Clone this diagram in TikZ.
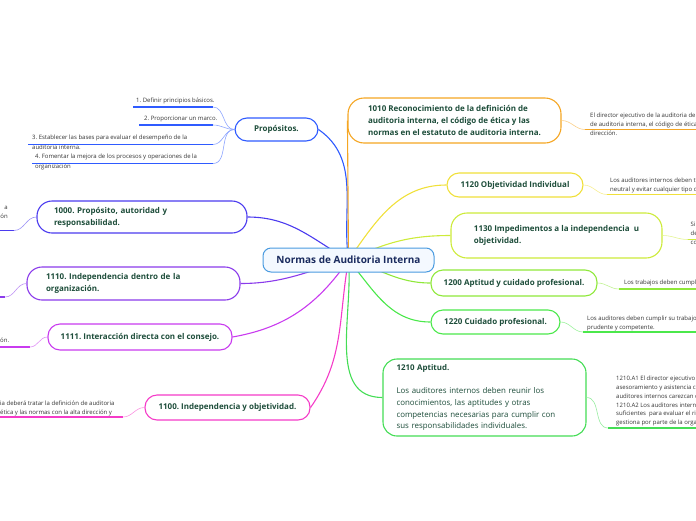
\documentclass[tikz,border=0pt]{standalone}
\usepackage{fontspec}
\setmainfont{Open Sans}
\usepackage{xcolor}
\definecolor{cRoot}{HTML}{4A9BE0}
\definecolor{cRootFill}{HTML}{F4F9FF}
\definecolor{cNavy}{HTML}{1A2B5E}
\definecolor{cText}{HTML}{1D4D3A}
\definecolor{cLeaf}{HTML}{333333}
\definecolor{cProp}{HTML}{2F5BFF}
\definecolor{cA}{HTML}{4B3BEF}
\definecolor{cB}{HTML}{8B3BEB}
\definecolor{cC}{HTML}{C93BEF}
\definecolor{cD}{HTML}{F53BC8}
\definecolor{cE}{HTML}{F5A623}
\definecolor{cF}{HTML}{F0E03A}
\definecolor{cG}{HTML}{CDEB3A}
\definecolor{cH}{HTML}{8FE83A}
\definecolor{cI}{HTML}{4BE84B}
\definecolor{cJ}{HTML}{44DD55}
\usepackage{tikz}
\usetikzlibrary{backgrounds}
\frenchspacing
\newcommand\rootfont{\fontsize{10}{12}\selectfont\bfseries}
\newcommand\topicfont{\fontsize{8}{12}\selectfont\bfseries}
\newcommand\bodyfont{\fontsize{7.9}{11.7}\selectfont}
\newcommand\leaffont{\fontsize{6}{9}\selectfont}
\tikzset{
  node-root/.style={draw=cRoot,line width=1pt,fill=cRootFill,rounded corners=8pt,
    minimum width=171pt,minimum height=24pt,font=\rootfont,text=cNavy},
  node-topic/.style={draw=#1,line width=1.1pt,fill=white,rounded corners=12pt,
    font=\topicfont,text=cText,inner xsep=0pt,inner ysep=4pt,align=left},
  node-leaf/.style={font=\leaffont,text=cLeaf,inner sep=0pt,align=left},
  branch/.style={line width=1.1pt,draw=#1},
  twig/.style={line width=0.6pt,draw=#1!55},
  uline/.style={line width=1.3pt,draw=#1},
}
\begin{document}
\begin{tikzpicture}[x=1pt,y=1pt]
  \useasboundingbox (0,0) rectangle (696,-520);
  % centro
  \node[node-root] (root) at (348.5,-260) {Normas de Auditoria Interna};
  % lado izquierdo
  \node[node-topic=cProp,minimum width=83pt,minimum height=23pt,align=center] (prop) at (276.5,-129.5) {Propósitos.};
  \node[node-topic=cA,text width=176pt,inner xsep=17pt,minimum height=32pt,rounded corners=15pt] (n1000) at (142,-217) {1000. Propósito, autoridad y\\responsabilidad.};
  \node[node-topic=cB,text width=175pt,inner xsep=19pt,minimum height=33pt,rounded corners=15pt] (n1110) at (133.5,-283.5) {1110. Independencia dentro de la\\organización.};
  \node[node-topic=cC,minimum width=184pt,minimum height=26pt,align=center] (n1111) at (140,-337) {1111. Interacción directa con el consejo.};
  \node[node-topic=cD,minimum width=165pt,minimum height=25pt,align=center] (n1100) at (227.5,-407.5) {1100. Independencia y objetividad.};
  % lado derecho
  \node[node-topic=cE,minimum width=213pt,minimum height=45pt,rounded corners=16pt] (n1010) at (454.5,-120.5) {1010 Reconocimiento de la definición de\\auditoria interna, el código de ética y las\\normas en el estatuto de auditoria interna.};
  \node[node-topic=cF,minimum width=136pt,minimum height=24pt,align=center] (n1120) at (515,-185) {1120 Objetividad Individual};
  \node[node-topic=cG,minimum width=211pt,minimum height=45pt,rounded corners=16pt] (n1130) at (556.5,-235.5) {1130 Impedimentos a la independencia~ u\\objetividad.};
  \node[node-topic=cH,minimum width=166pt,minimum height=26pt,align=center] (n1200) at (514,-283) {1200 Aptitud y cuidado profesional.};
  \node[node-topic=cI,minimum width=129pt,minimum height=24pt,align=center] (n1220) at (495.5,-322) {1220 Cuidado profesional.};
  \node[node-topic=cJ,text width=176pt,inner xsep=13.5pt,minimum height=77pt,rounded corners=14pt,font=\bodyfont] (n1210) at (484.5,-397.5) {\textbf{1210 Aptitud.}\\[11.7pt]Los auditores internos deben reunir los\\conocimientos, las aptitudes y otras\\competencias necesarias para cumplir con\\sus responsabilidades individuales.};

  \begin{scope}[on background layer]
    \draw[branch=cProp] (root.center) to[out=98,in=-35] (prop.east);
    \draw[branch=cA] (root.center) to[out=150,in=0] (n1000.east);
    \draw[branch=cB] (root.center) to[out=195,in=0] (n1110.east);
    \draw[branch=cC] (root.center) to[out=235,in=10] (n1111.east);
    \draw[branch=cD] (root.center) to[out=260,in=55] (n1100.east);
    \draw[branch=cE] (root.center) -- (n1010.west);
    \draw[branch=cF] (root.center) to[out=55,in=180] (n1120.west);
    \draw[branch=cG] (root.center) to[out=25,in=180] (n1130.west);
    \draw[branch=cH] (root.center) to[out=-15,in=180] (n1200.west);
    \draw[branch=cI] (root.center) to[out=-50,in=180] (n1220.west);
    \draw[branch=cJ] (root.center) to[out=-85,in=180] (n1210.west);
  \end{scope}

  % hojas de Propósitos
  \node[node-leaf,anchor=north west] (p1) at (136,-98) {1. Definir principios básicos.};
  \node[node-leaf,anchor=north west] (p2) at (144,-116) {2. Proporcionar un marco.};
  \node[node-leaf,anchor=north west,font=\fontsize{6}{10.5}\selectfont] (p3) at (32,-134.5) {3. Establecer las bases para evaluar el desempeño de la\\auditoria interna.};
  \node[node-leaf,anchor=north west,font=\fontsize{6}{10.5}\selectfont] (p4) at (35,-153.5) {4. Fomentar la mejora de los procesos y operaciones de la\\organización};
  \coordinate (p1e) at (213,-107); \coordinate (p1s) at (133,-107);
  \coordinate (p2e) at (213,-125); \coordinate (p2s) at (139,-125);
  \coordinate (p3e) at (213,-144.5); \coordinate (p3s) at (28,-144.5);
  \coordinate (p4e) at (213,-163.5); \coordinate (p4s) at (32,-163.5);
  \draw[uline=cProp] (p1s) -- (p1e); \draw[uline=cProp] (p2s) -- (p2e);
  \draw[uline=cProp] (p3s) -- (p3e); \draw[uline=cProp] (p4s) -- (p4e);
  \draw[twig=cProp] (prop.west) to[out=180,in=0] (p1e);
  \draw[twig=cProp] (prop.west) to[out=180,in=0] (p2e);
  \draw[twig=cProp] (prop.west) to[out=180,in=0] (p3e);
  \draw[twig=cProp] (prop.west) to[out=180,in=0] (p4e);

  % hojas del lado izquierdo
  \node[node-leaf,anchor=north east,align=right] (a1) at (8,-206) {a\\ón};
  \coordinate (a1e) at (14,-230.5); \coordinate (a1s) at (-4,-230.5);
  \draw[uline=cA] (a1s) -- (a1e);
  \draw[twig=cA] (n1000.west) to[out=180,in=0] (a1e);
  \coordinate (b1e) at (5,-297); \coordinate (b1s) at (-4,-297);
  \draw[uline=cB] (b1s) -- (b1e);
  \draw[twig=cB] (n1110.west) to[out=180,in=0] (b1e);
  \node[node-leaf,anchor=north west] (c1) at (0,-338) {ón.};
  \coordinate (c1e) at (30,-347); \coordinate (c1s) at (-4,-347);
  \draw[uline=cC] (c1s) -- (c1e);
  \draw[twig=cC] (n1111.west) to[out=180,in=0] (c1e);
  \node[node-leaf,anchor=north west] (d1) at (0,-400.5) {ia deberá tratar la definición de auditoria\\ética y las normas con la alta dirección y};
  \coordinate (d1e) at (123,-417); \coordinate (d1s) at (-4,-417);
  \draw[uline=cD] (d1s) -- (d1e);
  \draw[twig=cD] (n1100.west) to[out=180,in=0] (d1e);

  % hojas del lado derecho
  \node[node-leaf,anchor=north west] (e1) at (590,-113) {El director ejecutivo de la auditoria del\\de auditoria interna, el código de ética\\dirección.};
  \coordinate (e1s) at (585,-129.5); \coordinate (e1e) at (700,-129.5);
  \draw[uline=cE] (e1s) -- (e1e);
  \draw[twig=cE] (n1010.east) to[out=0,in=180] (e1s);
  \node[node-leaf,anchor=north west] (f1) at (610,-178) {Los auditores internos deben t\\neutral y evitar cualquier tipo d};
  \coordinate (f1s) at (607,-194.5); \coordinate (f1e) at (700,-194.5);
  \draw[uline=cF] (f1s) -- (f1e);
  \draw[twig=cF] (n1120.east) to[out=0,in=180] (f1s);
  \node[node-leaf,anchor=north west] (g1) at (690.5,-222) {Si\\de\\co};
  \coordinate (g1s) at (688,-239.5); \coordinate (g1e) at (700,-239.5);
  \draw[uline=cG] (g1s) -- (g1e);
  \draw[twig=cG] (n1130.east) to[out=0,in=180] (g1s);
  \node[node-leaf,anchor=north west] (h1) at (624,-279.5) {Los trabajos deben cumpl};
  \coordinate (h1s) at (619,-289); \coordinate (h1e) at (700,-289);
  \draw[uline=cH] (h1s) -- (h1e);
  \draw[twig=cH] (n1200.east) to[out=0,in=180] (h1s);
  \node[node-leaf,anchor=north west] (i1) at (587,-316) {Los auditores deben cumplir su trabajo\\prudente y competente.};
  \coordinate (i1s) at (583,-332); \coordinate (i1e) at (700,-332);
  \draw[uline=cI] (i1s) -- (i1e);
  \draw[twig=cI] (n1220.east) to[out=0,in=180] (i1s);
  \node[node-leaf,anchor=north west,font=\fontsize{6}{8.8}\selectfont] (j1) at (616,-376) {1210.A1 El director ejecutivo\\asesoramiento y asistencia c\\auditores internos carezcan c\\1210.A2 Los auditores interno\\suficientes~ para evaluar el ri\\gestiona por parte de la orga};
  \coordinate (j1s) at (608,-428); \coordinate (j1e) at (700,-428);
  \draw[uline=cJ] (j1s) -- (j1e);
  \draw[twig=cJ] (n1210.east) to[out=0,in=180] (j1s);
\end{tikzpicture}
\end{document}
